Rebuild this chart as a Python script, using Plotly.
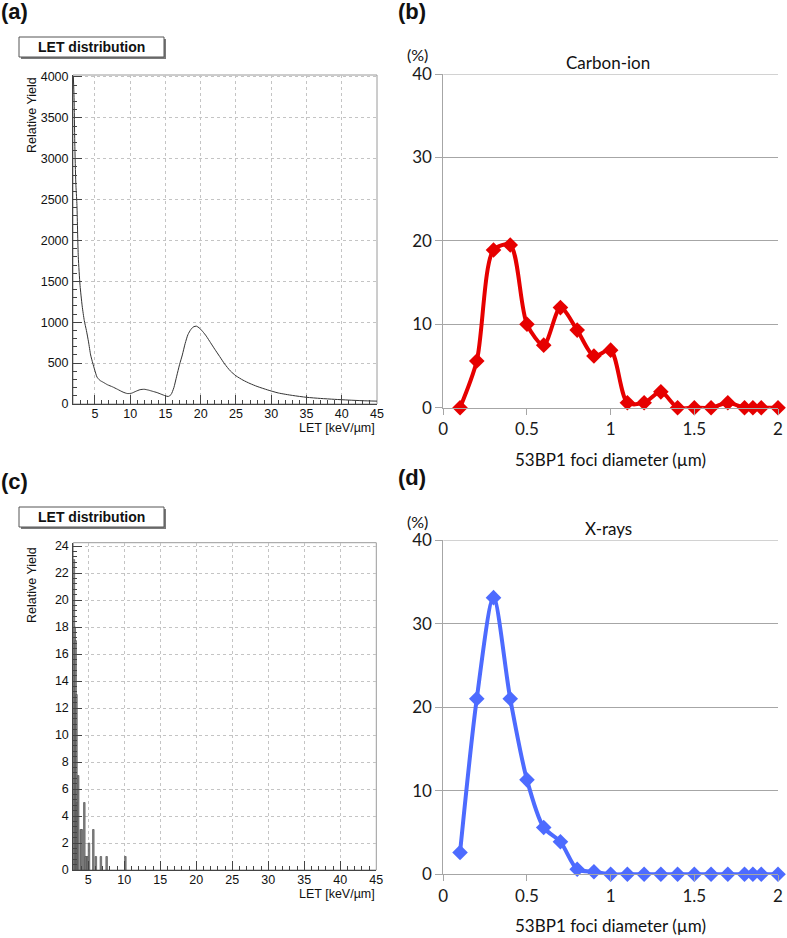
import plotly.graph_objects as go

W, H = 787, 938

# ---------------- data ----------------
# (a) carbon-ion LET spectrum (relative yield vs LET)
let_a_x = [1.95, 2.05, 2.15, 2.3, 2.45, 2.65, 2.9, 3.2, 3.5, 3.8, 4.1, 4.4, 4.7, 5.0,
           5.3, 5.7, 6.2, 6.8, 7.5, 8.2, 9.0, 9.6, 10.2, 10.8, 11.4, 12.0, 12.6, 13.2,
           13.8, 14.4, 15.0, 15.4, 15.8, 16.2, 16.6, 17.0, 17.4, 17.8, 18.2, 18.6, 19.0,
           19.4, 19.8, 20.3, 20.8, 21.4, 22.0, 22.7, 23.4, 24.2, 25.0, 26.0, 27.0, 28.0,
           29.5, 31.0, 33.0, 35.0, 37.0, 39.0, 41.0, 43.0, 45.0]
let_a_y = [4000, 3750, 3200, 2700, 2450, 1800, 1450, 1200, 1020, 900, 760, 600, 500, 410,
           330, 290, 265, 235, 210, 180, 145, 128, 132, 155, 175, 180, 170, 155,
           140, 120, 100, 92, 115, 200, 340, 480, 600, 740, 850, 910, 945,
           952, 930, 885, 830, 750, 670, 580, 490, 405, 345, 292, 250, 215,
           172, 135, 105, 82, 68, 57, 48, 40, 35]

# (c) x-ray LET histogram
let_c_x = [3.0, 3.12, 3.24, 3.36, 3.45, 3.6, 3.95, 4.1, 4.45, 4.65, 4.85, 5.1, 5.7,
           6.05, 6.75, 7.55, 10.15]
let_c_y = [23, 18, 17, 13, 5, 7, 3, 3, 5, 1, 1, 2, 3, 1, 1, 1, 1]

# (b), (d) 53BP1 foci diameter distribution (%)
diam = [0.1, 0.2, 0.3, 0.4, 0.5, 0.6, 0.7, 0.8, 0.9, 1.0, 1.1, 1.2, 1.3, 1.4, 1.5,
        1.6, 1.7, 1.8, 1.85, 1.9, 2.0]
pct_carbon = [0, 5.6, 18.9, 19.5, 10.0, 7.5, 12.0, 9.3, 6.2, 6.9, 0.6, 0.6, 1.9, 0, 0,
              0, 0.6, 0, 0, 0, 0]
pct_xray = [2.6, 21.0, 33.1, 21.0, 11.3, 5.6, 3.9, 0.6, 0.3, 0, 0, 0, 0, 0, 0,
            0, 0, 0, 0, 0, 0]


def px(x):
    return x / W


def py(y):
    return 1 - y / H


ROOT_FONT = "Liberation Sans"
XL_FONT = "Lato"

fig = go.Figure()

fig.add_trace(go.Scatter(x=let_a_x, y=let_a_y, mode="lines", xaxis="x", yaxis="y",
                         line=dict(color="#333333", width=1, shape="spline", smoothing=0.6)))

fig.add_trace(go.Bar(x=let_c_x, y=let_c_y, xaxis="x3", yaxis="y3", width=0.22,
                     marker=dict(color="#8a8a8a", line=dict(color="#444444", width=0.6))))

fig.add_trace(go.Scatter(x=diam, y=pct_carbon, mode="lines+markers", xaxis="x2", yaxis="y2",
                         line=dict(color="#e60000", width=4, shape="spline", smoothing=0.8),
                         marker=dict(symbol="diamond", size=12, color="#e60000"),
                         cliponaxis=False))

fig.add_trace(go.Scatter(x=diam, y=pct_xray, mode="lines+markers", xaxis="x4", yaxis="y4",
                         line=dict(color="#4d6bff", width=4, shape="spline", smoothing=0.8),
                         marker=dict(symbol="diamond", size=12, color="#4d6bff"),
                         cliponaxis=False))

root_x = dict(showline=True, linecolor="#444444", linewidth=1, ticks="inside", ticklen=9,
              tickcolor="#444444", dtick=5, tick0=0, showgrid=True, gridcolor="#c4c4c4",
              griddash="dot", zeroline=False, automargin=False, ticklabelstandoff=-2,
              minor=dict(ticks="inside", ticklen=4, dtick=1, tickcolor="#444444", showgrid=False),
              tickfont=dict(family=ROOT_FONT, size=12.5, color="#111111"))
root_y = dict(showline=True, linecolor="#444444", linewidth=1, ticks="inside", ticklen=9,
              tickcolor="#444444", showgrid=True, gridcolor="#c4c4c4", griddash="dot",
              zeroline=False, ticklabelstandoff=1, automargin=False,
              tickfont=dict(family=ROOT_FONT, size=12.5, color="#111111"))

xl_x = dict(range=[0, 2], dtick=0.5, showgrid=False, showline=True, linecolor="#a6a6a6",
            ticks="outside", ticklen=6, tickcolor="#a6a6a6", zeroline=False, automargin=False,
            tickfont=dict(family=XL_FONT, size=17, color="#1a1a1a"))
xl_y = dict(range=[0, 40], dtick=10, showgrid=True, gridcolor="#a6a6a6", showline=True,
            linecolor="#a6a6a6", ticks="outside", ticklen=7, tickcolor="#a6a6a6",
            zeroline=False, automargin=False,
            tickfont=dict(family=XL_FONT, size=17, color="#1a1a1a"))

fig.update_layout(
    width=W, height=H, margin=dict(l=0, r=0, t=0, b=0, autoexpand=False),
    paper_bgcolor="white", plot_bgcolor="white", showlegend=False,
    xaxis=dict(root_x, domain=[px(73), px(377)], range=[1.9, 45], anchor="y"),
    yaxis=dict(root_y, domain=[py(404), py(75)], range=[0, 4024], dtick=500, anchor="x",
               minor=dict(ticks="inside", ticklen=4, dtick=100, tickcolor="#444444", showgrid=False)),
    xaxis3=dict(root_x, domain=[px(73.3), px(376.3)], range=[2.92, 45], anchor="y3"),
    yaxis3=dict(root_y, domain=[py(870), py(542.7)], range=[0, 24.25], dtick=2, anchor="x3",
                minor=dict(ticks="inside", ticklen=4, dtick=0.4, tickcolor="#444444", showgrid=False)),
    xaxis2=dict(xl_x, domain=[px(443.3), px(778)], anchor="y2"),
    yaxis2=dict(xl_y, domain=[py(407.7), py(74)], anchor="x2"),
    xaxis4=dict(xl_x, domain=[px(443.3), px(778)], anchor="y4"),
    yaxis4=dict(xl_y, domain=[py(874.3), py(540)], anchor="x4"),
)

shapes = []
# ROOT frames (top / right edges)
for xr, yr in [("x", "y"), ("x3", "y3")]:
    shapes.append(dict(type="rect", xref=f"{xr} domain", yref=f"{yr} domain",
                       x0=0, x1=1, y0=0, y1=1, line=dict(color="#9a9a9a", width=1), layer="below"))
# Excel top gridline at 40 %
for xr, yr in [("x2", "y2"), ("x4", "y4")]:
    shapes.append(dict(type="line", xref=f"{xr} domain", yref=yr, x0=0, x1=1, y0=40, y1=40,
                       line=dict(color="#a6a6a6", width=1), layer="below"))

annotations = []


def label(text, x, y, size, family, xanchor="center", yanchor="middle", **kw):
    annotations.append(dict(text=text, xref="paper", yref="paper", x=px(x), y=py(y),
                            xanchor=xanchor, yanchor=yanchor, showarrow=False,
                            font=dict(family=family, size=size, color="#111111"), **kw))


for top, let_y in [(0, 428), (470, 894)]:
    # "LET distribution" pave with shadow
    shapes.append(dict(type="rect", xref="paper", yref="paper",
                       x0=px(21), x1=px(166), y0=py(59 + top), y1=py(39 + top),
                       line=dict(width=0), fillcolor="#7a7a7a"))
    shapes.append(dict(type="rect", xref="paper", yref="paper",
                       x0=px(19), x1=px(164), y0=py(57 + top), y1=py(37 + top),
                       line=dict(color="#555555", width=1), fillcolor="white"))
    label("<b>LET distribution</b>", 91.5, 47 + top, 14, ROOT_FONT)
    label("Relative Yield", 32, 75 + top, 12.5, ROOT_FONT, yanchor="top", textangle=-90)
    label("LET [keV/\u00b5m]", 377, let_y, 12.5, ROOT_FONT, xanchor="right")

for top, name in [(0, "Carbon-ion"), (466, "X-rays")]:
    label(name, 608, 62 + top, 17, XL_FONT)
    label("(%)", 417, 55 + top, 16, XL_FONT)
    label("53BP1 foci diameter (\u00b5m)", 610, 459 + top, 17, XL_FONT)

for text, x, y in [("(a)", 14, 11), ("(b)", 412, 11), ("(c)", 14, 482), ("(d)", 412, 477)]:
    label(f"<b>{text}</b>", x, y, 22, ROOT_FONT)

fig.update_layout(shapes=shapes, annotations=annotations)

fig.write_html("out.html", config={"displayModeBar": False},
               post_script="document.body.style.margin='0px';")
